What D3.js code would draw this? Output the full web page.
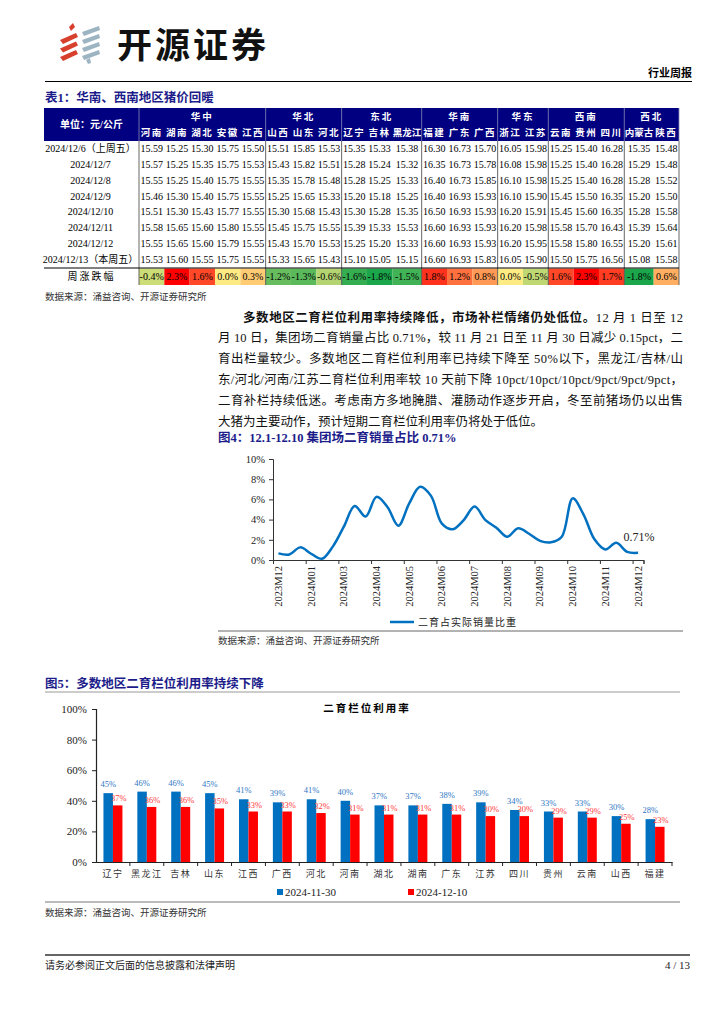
<!DOCTYPE html>
<html>
<head>
<meta charset="utf-8">
<script src="https://cdn.jsdelivr.net/npm/d3@7"></script>
<style>
  body { margin: 0; background: #fff; }
  svg { display: block; }
</style>
</head>
<body>
<div id="page"></div>
<script>
// ---------- table 1 data
var groups = [
  { name: '华中', n: 5 }, { name: '华北', n: 3 }, { name: '东北', n: 3 },
  { name: '华南', n: 3 }, { name: '华东', n: 2 }, { name: '西南', n: 3 }, { name: '西北', n: 2 }
];
var provinces = ['河南','湖南','湖北','安徽','江西','山西','山东','河北','辽宁','吉林','黑龙江',
                 '福建','广东','广西','浙江','江苏','云南','贵州','四川','内蒙古','陕西'];
var dates = ['2024/12/6（上周五）','2024/12/7','2024/12/8','2024/12/9','2024/12/10',
             '2024/12/11','2024/12/12','2024/12/13（本周五）'];
var prices = [
  [15.59,15.25,15.30,15.75,15.50,15.51,15.85,15.53,15.35,15.33,15.38,16.30,16.73,15.70,16.05,15.98,15.25,15.40,16.28,15.35,15.48],
  [15.57,15.25,15.35,15.75,15.53,15.43,15.82,15.51,15.28,15.24,15.32,16.35,16.73,15.78,16.08,15.98,15.25,15.40,16.28,15.29,15.48],
  [15.55,15.25,15.40,15.75,15.55,15.35,15.78,15.48,15.28,15.25,15.33,16.40,16.73,15.85,16.10,15.98,15.25,15.40,16.28,15.28,15.52],
  [15.46,15.30,15.40,15.75,15.55,15.25,15.65,15.33,15.20,15.18,15.25,16.40,16.93,15.93,16.10,15.90,15.45,15.50,16.35,15.20,15.50],
  [15.51,15.30,15.43,15.77,15.55,15.30,15.68,15.43,15.30,15.28,15.35,16.50,16.93,15.93,16.20,15.91,15.45,15.60,16.35,15.28,15.58],
  [15.58,15.65,15.60,15.80,15.55,15.45,15.75,15.55,15.39,15.33,15.53,16.60,16.93,15.93,16.20,15.98,15.58,15.70,16.43,15.39,15.64],
  [15.55,15.65,15.60,15.79,15.55,15.43,15.70,15.53,15.25,15.20,15.33,16.60,16.93,15.93,16.20,15.95,15.58,15.80,16.55,15.20,15.61],
  [15.53,15.60,15.55,15.75,15.55,15.33,15.65,15.43,15.10,15.05,15.15,16.60,16.93,15.83,16.05,15.90,15.50,15.75,16.56,15.08,15.58]
];
var weekChange = [-0.4,2.3,1.6,0.0,0.3,-1.2,-1.3,-0.6,-1.6,-1.8,-1.5,1.8,1.2,0.8,0.0,-0.5,1.6,2.3,1.7,-1.8,0.6];

// ---------- figure 4 data (one point per ten days, Feb missing)
var monthLabels = ['2023M12','2024M01','2024M03','2024M04','2024M05','2024M06',
                   '2024M07','2024M08','2024M09','2024M10','2024M11','2024M12'];
var shareValues = [0.66,0.55,1.25,0.62,0.12,1.35,3.3,5.35,4.3,6.25,5.25,3.4,5.6,7.25,6.35,3.6,3.05,
                   3.95,5.3,3.95,3.2,2.3,3.15,2.6,1.9,1.75,2.3,6.1,4.5,2.05,1.05,1.7,0.8,0.71];
var shareTicks = [0, 2, 4, 6, 8, 10];

// ---------- figure 5 data
var regions = ['辽宁','黑龙江','吉林','山东','江西','广西','河北','河南','湖北','湖南','广东','江苏',
               '四川','贵州','云南','山西','福建'];
var rate1130 = [45,46,46,45,41,39,41,40,37,37,38,39,34,33,33,30,28];
var rate1210 = [37,36,36,35,33,33,32,31,31,31,31,30,30,29,29,25,23];
var rateTicks = [0, 20, 40, 60, 80, 100];

var SERIF = '"Liberation Serif","Noto Sans CJK SC",serif';
var NAVY = '#000080';
var TITLE = '#1c1c8a';

var svg = d3.select('#page').append('svg')
    .attr('width', 724).attr('height', 1024)
    .style('font-family', SERIF);
svg.append('rect').attr('width', 724).attr('height', 1024).attr('fill', '#fff');

// ---------- page header
var logo = svg.append('g');
[0, 1, 2].forEach(function (i) {
  var y = 34 + i * 8.5;
  logo.append('path')
      .attr('d', 'M60,' + (y + 6) + 'L76,' + (y - 1) + 'L78,' + (y + 3) + 'L63,' + (y + 10) + 'Z')
      .attr('fill', '#d8402e');
});
[0, 1, 2, 3].forEach(function (i) {
  var y = 27 + i * 8;
  logo.append('path')
      .attr('d', 'M82,' + (y + 5) + 'L99,' + (y - 1) + 'L100,' + (y + 3) + 'L84,' + (y + 9) + 'Z')
      .attr('fill', '#9db4c2');
});
logo.append('path').attr('d', 'M69,27L73,23L75,27L71,31Z').attr('fill', '#d8402e');
logo.append('path').attr('d', 'M86,60L90,58L91,63L88,64Z').attr('fill', '#9db4c2');

svg.append('text').attr('x', 117).attr('y', 58)
    .attr('font-family', '"Noto Sans CJK SC",sans-serif')
    .attr('font-size', 35).attr('font-weight', 'bold').attr('fill', '#111')
    .attr('letter-spacing', 3).text('开源证券');
svg.append('text').attr('x', 692).attr('y', 77).attr('text-anchor', 'end')
    .attr('font-size', 11).attr('font-weight', 'bold').text('行业周报');
svg.append('line').attr('x1', 45).attr('x2', 692).attr('y1', 81.5).attr('y2', 81.5)
    .attr('stroke', '#000').attr('stroke-width', 1);

// ---------- table 1
svg.append('text').attr('x', 45).attr('y', 102).attr('font-size', 12.5)
    .attr('font-weight', 'bold').attr('fill', TITLE).text('表1：华南、西南地区猪价回暖');

var tx0 = 44, tx1 = 679, firstX = 139;
var weights = provinces.map(function (p) { return p.length > 2 ? 1.16 : 1; });
var cum = [0].concat(Array.from(d3.cumsum(weights)));
var colScale = d3.scaleLinear().domain([0, d3.sum(weights)]).range([firstX, tx1]);
var colL = function (i) { return colScale(cum[i]); };
var colC = function (i) { return (colScale(cum[i]) + colScale(cum[i + 1])) / 2; };
var groupEdges = [0].concat(Array.from(d3.cumsum(groups, function (g) { return g.n; })));

var headTop = 108, headMid = 124.5, headBot = 141;
var rowY = d3.scaleBand().domain(dates).range([headBot, 267]);
var chgTop = 268.5, chgBot = 285;

var tbl = svg.append('g');
tbl.append('rect').attr('x', tx0).attr('y', headTop).attr('width', tx1 - tx0)
    .attr('height', headBot - headTop).attr('fill', NAVY);
tbl.append('text').attr('x', (tx0 + firstX) / 2).attr('y', (headTop + headBot) / 2 + 3.5)
    .attr('text-anchor', 'middle').attr('font-size', 10).attr('font-weight', 'bold')
    .attr('fill', '#fff').text('单位：元/公斤');
tbl.selectAll('.gname').data(groups).enter().append('text')
    .attr('x', function (d, i) { return (colL(groupEdges[i]) + colL(groupEdges[i + 1])) / 2; })
    .attr('y', (headTop + headMid) / 2 + 3.5).attr('text-anchor', 'middle')
    .attr('font-size', 9.5).attr('font-weight', 'bold').attr('fill', '#fff')
    .attr('letter-spacing', 2).text(function (d) { return d.name; });
tbl.selectAll('.pname').data(provinces).enter().append('text')
    .attr('x', function (d, i) { return colC(i); })
    .attr('y', (headMid + headBot) / 2 + 3.5).attr('text-anchor', 'middle')
    .attr('font-size', 9.5).attr('font-weight', 'bold').attr('fill', '#fff')
    .attr('letter-spacing', function (d) { return d.length > 2 ? 0 : 1.5; })
    .text(function (d) { return d; });

// header separators
tbl.selectAll('.hsep').data(groupEdges).enter().append('line')
    .attr('x1', function (d) { return colL(d); }).attr('x2', function (d) { return colL(d); })
    .attr('y1', headTop).attr('y2', headBot).attr('stroke', '#8a8ab8').attr('stroke-width', 0.8);

// data rows
dates.forEach(function (dt, r) {
  var yc = rowY(dt) + rowY.bandwidth() / 2 + 3.5;
  tbl.append('text').attr('x', (tx0 + firstX) / 2 - 1).attr('y', yc).attr('text-anchor', 'middle')
      .attr('font-size', 10).text(dt);
  tbl.selectAll('.v' + r).data(prices[r]).enter().append('text')
      .attr('x', function (d, i) { return colC(i); }).attr('y', yc)
      .attr('text-anchor', 'middle').attr('font-size', 10)
      .text(function (d) { return d.toFixed(2); });
});

// week change row
var chgColor = d3.scaleLinear().domain([-1.8, 0, 2.3]).range(['#1ba64b', '#ffeb84', '#ff0000']);
tbl.selectAll('.chg').data(weekChange).enter().append('rect')
    .attr('x', function (d, i) { return colL(i); }).attr('y', chgTop)
    .attr('width', function (d, i) { return colL(i + 1) - colL(i); })
    .attr('height', chgBot - chgTop).attr('fill', function (d) { return chgColor(d); });
tbl.selectAll('.chgt').data(weekChange).enter().append('text')
    .attr('x', function (d, i) { return colC(i); }).attr('y', (chgTop + chgBot) / 2 + 3.5)
    .attr('text-anchor', 'middle').attr('font-size', 10)
    .text(function (d) { return d.toFixed(1) + '%'; });
tbl.append('text').attr('x', (tx0 + firstX) / 2).attr('y', (chgTop + chgBot) / 2 + 3.5)
    .attr('text-anchor', 'middle').attr('font-size', 10).attr('letter-spacing', 2).text('周涨跌幅');

tbl.selectAll('.dsep').data(groupEdges).enter().append('line')
    .attr('x1', function (d) { return colL(d); }).attr('x2', function (d) { return colL(d); })
    .attr('y1', headBot).attr('y2', chgBot).attr('stroke', '#555').attr('stroke-width', 0.9);
tbl.append('line').attr('x1', tx0).attr('x2', tx1).attr('y1', chgTop - 0.5).attr('y2', chgTop - 0.5)
    .attr('stroke', '#000').attr('stroke-width', 1);

function source(x, y) {
  svg.append('text').attr('x', x).attr('y', y).attr('font-size', 9.5).attr('fill', '#333')
      .text('数据来源：涌益咨询、开源证券研究所');
}
source(45, 300);

// ---------- paragraph
var para = [
  { x: 243, w: 440, parts: [['多数地区二育栏位利用率持续降低，市场补栏情绪仍处低位。', true], ['12 月 1 日至 12', false]] },
  { x: 218, w: 465, parts: [['月 10 日，集团场二育销量占比 0.71%，较 11 月 21 日至 11 月 30 日减少 0.15pct，二', false]] },
  { x: 218, w: 465, parts: [['育出栏量较少。多数地区二育栏位利用率已持续下降至 50%以下，黑龙江/吉林/山', false]] },
  { x: 218, w: 465, parts: [['东/河北/河南/江苏二育栏位利用率较 10 天前下降 10pct/10pct/10pct/9pct/9pct/9pct，', false]] },
  { x: 218, w: 465, parts: [['二育补栏持续低迷。考虑南方多地腌腊、灌肠动作逐步开启，冬至前猪场仍以出售', false]] },
  { x: 218, w: null, parts: [['大猪为主要动作，预计短期二育栏位利用率仍将处于低位。', false]] }
];
para.forEach(function (ln, i) {
  var t = svg.append('text').attr('x', ln.x).attr('y', 321.5 + i * 20.8).attr('font-size', 12.5).attr('fill', '#111');
  if (ln.w) t.attr('textLength', ln.w).attr('lengthAdjust', 'spacing');
  ln.parts.forEach(function (p) {
    t.append('tspan').attr('font-weight', p[1] ? 'bold' : 'normal').text(p[0]);
  });
});

// ---------- figure 4: line chart
svg.append('text').attr('x', 218).attr('y', 442).attr('font-size', 12.5).attr('font-weight', 'bold')
    .attr('fill', TITLE).text('图4：12.1-12.10 集团场二育销量占比 0.71%');

var x4 = d3.scaleLinear().domain([-0.5, shareValues.length - 0.5]).range([273, 643.5]);
var y4 = d3.scaleLinear().domain([0, 10]).range([560, 459]);
var g4 = svg.append('g');

g4.append('g').attr('transform', 'translate(273,0)')
    .call(d3.axisLeft(y4).tickValues(shareTicks).tickSize(4).tickPadding(4)
      .tickFormat(function (d) { return d + '%'; }))
    .call(function (a) {
      a.select('.domain').attr('stroke', '#333');
      a.selectAll('line').attr('stroke', '#333');
      a.selectAll('text').attr('font-size', 10.5).attr('font-family', SERIF).attr('fill', '#222');
    });

var tickIdx = d3.range(2.5, shareValues.length, 3).concat([shareValues.length - 0.5]);
g4.append('g').attr('transform', 'translate(0,560)')
    .call(d3.axisBottom(x4).tickValues(tickIdx).tickSize(4).tickFormat(''))
    .call(function (a) {
      a.select('.domain').attr('stroke', '#333');
      a.selectAll('line').attr('stroke', '#333');
    });

g4.selectAll('.mlab').data(monthLabels).enter().append('text')
    .attr('transform', function (d, i) { return 'translate(' + (x4(i * 3) + 3.5) + ',566) rotate(-90)'; })
    .attr('text-anchor', 'end').attr('font-size', 10.5).attr('fill', '#222')
    .text(function (d) { return d; });

var line4 = d3.line()
    .x(function (d, i) { return x4(i); })
    .y(function (d) { return y4(d); })
    .curve(d3.curveCatmullRom.alpha(0.5));
g4.append('path').datum(shareValues).attr('d', line4)
    .attr('fill', 'none').attr('stroke', '#0070c0').attr('stroke-width', 2.5);

var last = shareValues.length - 1;
g4.append('text').attr('x', x4(last) + 1).attr('y', y4(shareValues[last]) - 12)
    .attr('text-anchor', 'middle').attr('font-size', 12).attr('fill', '#222')
    .text(shareValues[last] + '%');

g4.append('line').attr('x1', 390).attr('x2', 414).attr('y1', 622).attr('y2', 622)
    .attr('stroke', '#0070c0').attr('stroke-width', 2.5);
g4.append('text').attr('x', 418).attr('y', 625.5).attr('font-size', 10).attr('fill', '#222')
    .attr('letter-spacing', 1).text('二育占实际销量比重');

svg.append('line').attr('x1', 218).attr('x2', 683).attr('y1', 631).attr('y2', 631)
    .attr('stroke', '#666').attr('stroke-width', 1);
source(218, 644);

// ---------- figure 5: grouped bars
svg.append('text').attr('x', 45).attr('y', 688).attr('font-size', 12.5).attr('font-weight', 'bold')
    .attr('fill', TITLE).text('图5：多数地区二育栏位利用率持续下降');
svg.append('line').attr('x1', 45).attr('x2', 680).attr('y1', 692).attr('y2', 692)
    .attr('stroke', '#999').attr('stroke-width', 1);

var x5 = d3.scaleBand().domain(regions).range([96, 672]).paddingInner(0.44).paddingOuter(0.22);
var s5 = d3.scaleBand().domain(['a', 'b']).range([0, x5.bandwidth()]);
var y5 = d3.scaleLinear().domain([0, 100]).range([862, 709]);
var g5 = svg.append('g');

g5.append('text').attr('x', 367).attr('y', 712).attr('text-anchor', 'middle')
    .attr('font-size', 10.5).attr('font-weight', 'bold').attr('letter-spacing', 2).text('二育栏位利用率');

var series = [
  { key: 'a', name: '2024-11-30', vals: rate1130, color: '#0070c0', label: '#2f78c4', dy: 6 },
  { key: 'b', name: '2024-12-10', vals: rate1210, color: '#ff0000', label: '#ff3b3b', dy: 4 }
];
series.forEach(function (s) {
  g5.selectAll('.b' + s.key).data(s.vals).enter().append('rect')
      .attr('x', function (d, i) { return x5(regions[i]) + s5(s.key); })
      .attr('y', function (d) { return y5(d); })
      .attr('width', s5.bandwidth())
      .attr('height', function (d) { return y5(0) - y5(d); })
      .attr('fill', s.color);
});
series.forEach(function (s) {
  g5.selectAll('.l' + s.key).data(s.vals).enter().append('text')
      .attr('x', function (d, i) { return x5(regions[i]) + s5(s.key) + s5.bandwidth() / 2 + (s.key === 'b' ? 1 : 0); })
      .attr('y', function (d) { return y5(d) - s.dy; })
      .attr('text-anchor', 'middle').attr('font-size', 8.5).attr('fill', s.label)
      .text(function (d) { return d + '%'; });
});

g5.append('g').attr('transform', 'translate(96,0)')
    .call(d3.axisLeft(y5).tickValues(rateTicks).tickSize(4).tickPadding(5)
      .tickFormat(function (d) { return d + '%'; }))
    .call(function (a) {
      a.select('.domain').attr('stroke', '#222').attr('stroke-width', 1.2);
      a.selectAll('line').attr('stroke', '#222');
      a.selectAll('text').attr('font-size', 11).attr('font-family', SERIF).attr('fill', '#222');
    });
g5.append('g').attr('transform', 'translate(0,862)')
    .call(d3.axisBottom(x5).tickSize(0).tickPadding(9))
    .call(function (a) {
      a.select('.domain').attr('stroke', '#222').attr('stroke-width', 1.2);
      a.selectAll('text').attr('font-size', 9).attr('font-family', SERIF).attr('fill', '#333')
        .attr('letter-spacing', 1.5);
    });
g5.selectAll('.xt').data(regions).enter().append('line')
    .attr('x1', function (d) { return x5(d) + x5.bandwidth() + x5.step() * 0.22; })
    .attr('x2', function (d) { return x5(d) + x5.bandwidth() + x5.step() * 0.22; })
    .attr('y1', 862).attr('y2', 866).attr('stroke', '#222');

var lg = g5.selectAll('.lg').data(series).enter().append('g')
    .attr('transform', function (d, i) { return 'translate(' + (277 + i * 131) + ',892)'; });
lg.append('rect').attr('x', 0).attr('y', -3).attr('width', 6).attr('height', 6)
    .attr('fill', function (d) { return d.color; });
lg.append('text').attr('x', 8).attr('y', 4).attr('font-size', 11).attr('fill', '#222')
    .text(function (d) { return d.name; });

svg.append('line').attr('x1', 45).attr('x2', 680).attr('y1', 902).attr('y2', 902)
    .attr('stroke', '#777').attr('stroke-width', 1);
source(45, 916);

// ---------- footer
svg.append('line').attr('x1', 45).attr('x2', 690).attr('y1', 955).attr('y2', 955)
    .attr('stroke', '#666').attr('stroke-width', 1.8);
svg.append('text').attr('x', 45).attr('y', 969).attr('font-size', 10).attr('fill', '#222')
    .text('请务必参阅正文后面的信息披露和法律声明');
svg.append('text').attr('x', 690).attr('y', 969).attr('text-anchor', 'end')
    .attr('font-size', 11).attr('fill', '#222').text('4 / 13');
</script>
</body>
</html>
